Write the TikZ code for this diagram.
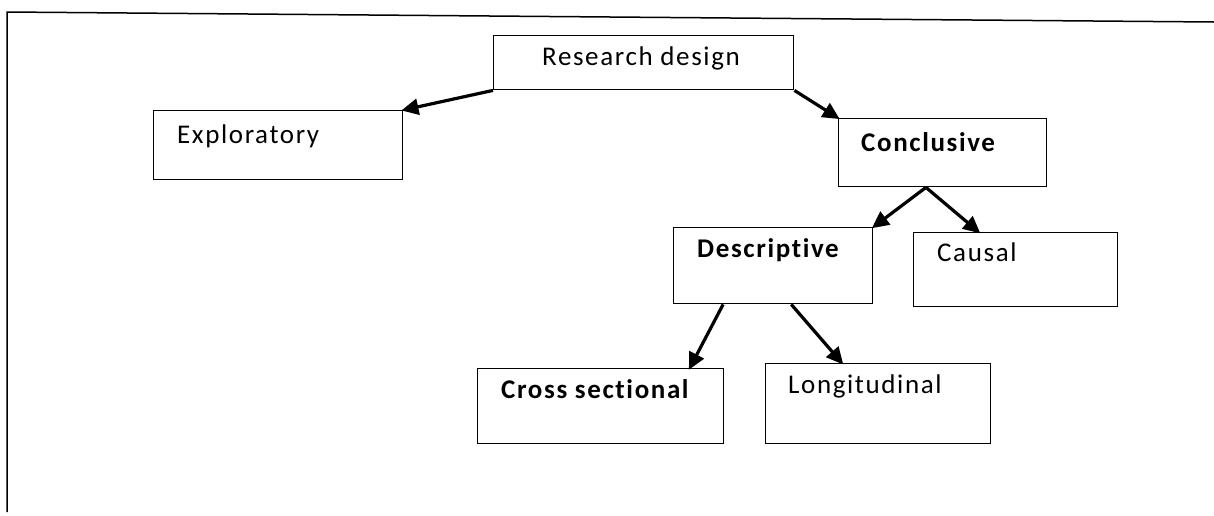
\documentclass[tikz,border=0pt]{standalone}
\usepackage{fontspec}
\setmainfont{Carlito}[LetterSpace=6,Ligatures=NoCommon]
\usetikzlibrary{arrows.meta,calc}
\tikzset{
  box/.style={draw=black, line width=1.4pt, rectangle, inner sep=0pt, anchor=north west},
  lbl/.style={inner sep=0pt, anchor=base west, font=\fontsize{27}{32}\selectfont},
  blbl/.style={lbl, font=\fontsize{27}{32}\selectfont\bfseries},
  arr/.style={draw=black, line width=3.2pt, -{Triangle[length=17pt,width=16pt]}, shorten >=-2pt}
}
\begin{document}
\begin{tikzpicture}[x=1pt,y=-1pt]
\useasboundingbox (0,0) rectangle (1214,515);
% frame
\draw[line width=1.5pt] (7,512) -- (7,12) -- (1214,22);
% boxes
\node[box, minimum width=300pt, minimum height=54pt] (rd) at (493,35) {};
\node[box, minimum width=249pt, minimum height=69pt] (exp) at (153,110) {};
\node[box, minimum width=208pt, minimum height=68pt] (con) at (838,118) {};
\node[box, minimum width=199pt, minimum height=76pt] (desc) at (673,227) {};
\node[box, minimum width=204pt, minimum height=74pt] (cau) at (913,232) {};
\node[box, minimum width=246pt, minimum height=75pt] (cross) at (477,368) {};
\node[box, minimum width=225pt, minimum height=80pt] (long) at (765,363) {};
% labels
\node[lbl] (rd-t) at (542,65) {Research design};
\node[lbl] (exp-t) at (177,143) {Exploratory};
\node[blbl] (con-t) at (861,151) {Conclusive};
\node[blbl] (desc-t) at (697,257) {Descriptive};
\node[lbl] (cau-t) at (937,261) {Causal};
\node[blbl] (cross-t) at (501,398) {Cross sectional};
\node[lbl] (long-t) at (788,393) {Longitudinal};
% connector endpoints
\coordinate (conS) at ($(con.south west)!0.42!(con.south east)$);
\coordinate (cauN) at ($(cau.north west)!0.32!(cau.north east)$);
\coordinate (descS1) at ($(desc.south west)!0.25!(desc.south east)$);
\coordinate (descS2) at ($(desc.south west)!0.59!(desc.south east)$);
\coordinate (crossN) at ($(cross.north west)!0.86!(cross.north east)$);
\coordinate (longN) at ($(long.north west)!0.34!(long.north east)$);
% connectors
\draw[arr] (rd.south west) -- (exp.north east);
\draw[arr] (rd.south east) -- (con.north west);
\draw[arr] (conS) -- (desc.north east);
\draw[arr] (conS) -- (cauN);
\draw[arr] (descS1) -- (crossN);
\draw[arr] (descS2) -- (longN);
\end{tikzpicture}
\end{document}
